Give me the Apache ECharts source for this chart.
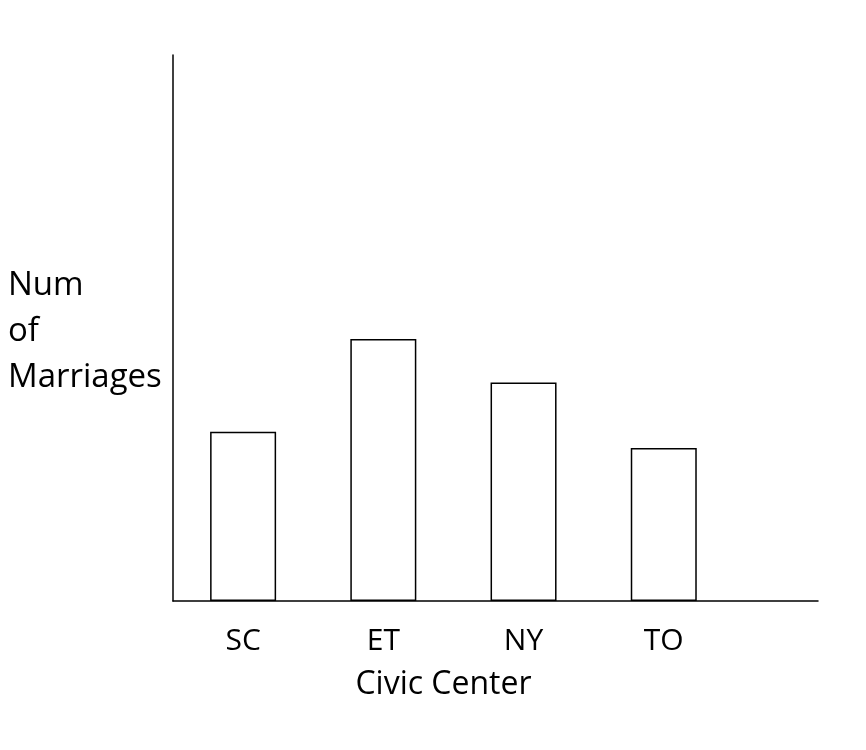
<!DOCTYPE html>
<html><head><meta charset="utf-8">
<script src="https://cdn.jsdelivr.net/npm/echarts@6/dist/echarts.min.js"></script>
<style>html,body{margin:0;padding:0;background:#fff}#c{width:866px;height:750px}</style>
</head><body><div id="c"></div>
<script>
const categories = ['SC', 'ET', 'NY', 'TO'];
const positions = [1, 2, 3, 4];
const marriages = [31, 48, 40, 28];
const yAxisName = 'Num\nof\nMarriages';
const xAxisName = 'Civic Center';

const FONT = 'Open Sans';
const chart = echarts.init(document.getElementById('c'));
chart.setOption({
  backgroundColor: '#fff',
  animation: false,
  grid: { left: 173, right: 48, top: 55, bottom: 149 },
  xAxis: {
    type: 'value', min: 0.5, max: 5.1, interval: 0.5,
    splitLine: { show: false },
    axisTick: { show: false },
    axisLine: { show: true, lineStyle: { color: '#000', width: 1.5 } },
    axisLabel: {
      show: true, margin: 25, color: '#000', fontFamily: FONT, fontSize: 30,
      showMinLabel: true, showMaxLabel: true, hideOverlap: false,
      formatter: v => {
        const i = positions.indexOf(Math.round(v * 100) / 100);
        return i >= 0 ? categories[i] : '';
      }
    },
    name: xAxisName, nameLocation: 'middle', nameGap: 68,
    nameTextStyle: { color: '#000', fontFamily: FONT, fontSize: 32, padding: [0, 104, 0, 0] }
  },
  yAxis: {
    type: 'value', min: 0, max: 100,
    splitLine: { show: false },
    axisTick: { show: false },
    axisLabel: { show: false },
    axisLine: { show: true, lineStyle: { color: '#000', width: 1.5 } }
  },
  graphic: [{
    type: 'text', left: 8, top: 263,
    style: { text: yAxisName, fill: '#000', font: '33px "Open Sans"', lineHeight: 46 }
  }],
  series: [{
    type: 'bar',
    barWidth: 66,
    data: positions.map((p, i) => [p, marriages[i]]),
    itemStyle: { color: '#fff', borderColor: '#000', borderWidth: 1.5 }
  }]
});
</script></body></html>
